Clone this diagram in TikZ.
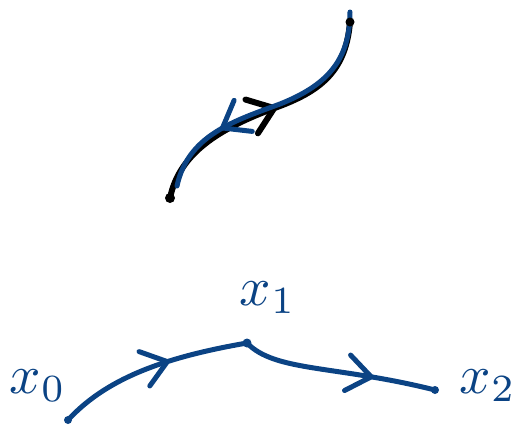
\documentclass[tikz,border=0pt]{standalone}
\usetikzlibrary{arrows.meta,decorations.markings}
\definecolor{pen}{HTML}{0B4384}
\tikzset{
  blueink/.style={draw=pen, line width=5pt, line cap=round, line join=round},
  blackink/.style={draw=black, line width=6pt, line cap=round, line join=round},
  midarrow/.style={postaction={decorate, decoration={markings,
      mark=at position #1 with {\arrow{Straight Barb[length=24pt,width=36pt,line cap=round,line join=round]}}}}},
  lbl/.style={text=pen, inner sep=0pt},
  dot/.style={circle, fill=#1, inner sep=0pt, minimum size=9pt}
}
\begin{document}
\begin{tikzpicture}[x=1pt,y=-1pt]
\useasboundingbox (0,0) rectangle (517,429);
% top curves
\coordinate (a0) at (170,198);
\coordinate (a1) at (350,22);
\coordinate (b0) at (177,186);
\coordinate (b1) at (350,12);
\draw[blackink, midarrow=0.55] (a0) .. controls (180,150) and (225,126) .. (280,106) .. controls (322,90) and (346,70) .. (a1);
\draw[blueink, midarrow=0.72] (b1) .. controls (350,62) and (325,86) .. (280,104) .. controls (234,121) and (188,135) .. (b0);
\node[dot=black, minimum size=10pt] (e0) at (a0) {};
\node[dot=black, minimum size=9pt] (e1) at (a1) {};
% bottom path
\node[dot=pen, minimum size=8pt] (p0) at (68,420) {};
\node[dot=pen, minimum size=9pt] (p1) at (247,343) {};
\node[dot=pen, minimum size=8pt] (p2) at (435,390) {};
\draw[blueink, midarrow=0.6] (p0.center) .. controls (105,380) and (160,358) .. (p1.center);
\draw[blueink, midarrow=0.68] (p1.center) .. controls (275,372) and (335,365) .. (p2.center);
\node[lbl] (l0) at (38,386) {\scalebox{5.5}{$x_0$}};
\node[lbl] (l1) at (268,298) {\scalebox{5.5}{$x_1$}};
\node[lbl] (l2) at (488,386) {\scalebox{5.5}{$x_2$}};
\end{tikzpicture}
\end{document}
